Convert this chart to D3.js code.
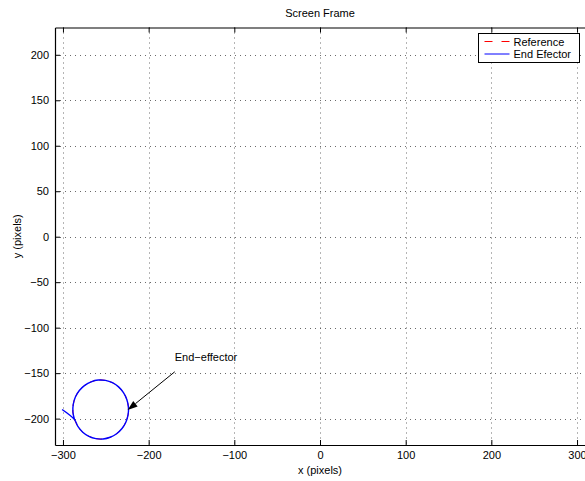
<!DOCTYPE html>
<html>
<head>
<meta charset="utf-8">
<script src="https://cdn.jsdelivr.net/npm/d3@7"></script>
<style>
  body { margin: 0; background: #fff; }
  text { font-family: "Liberation Sans", Arial, sans-serif; fill: #000; }
</style>
</head>
<body>
<script>
// chart values
const xTicks = [-300, -200, -100, 0, 100, 200, 300];
const yTicks = [-200, -150, -100, -50, 0, 50, 100, 150, 200];
const xDomain = [-309.3, 309.3];
const yDomain = [-229, 230];

// end effector path: start point, then round the circle
const effX = [-301.0, -286.5, -282.6, -276.9, -269.7, -261.6, -253.2, -244.9, -237.4, -231.1, -226.5, -224.0,
  -223.6, -225.5, -229.4, -235.1, -242.3, -250.4, -258.8, -267.1, -274.6, -280.9, -285.5, -288.0, -288.4, -286.5];
const effY = [-190.0, -201.1, -208.6, -214.9, -219.5, -222.0, -222.4, -220.5, -216.6, -210.9, -203.7, -195.6,
  -187.2, -178.9, -171.4, -165.1, -160.5, -158.0, -157.6, -159.5, -163.4, -169.1, -176.3, -184.4, -192.8, -201.1];

// reference circle (hidden under the end effector trace)
const refX = effX.slice(1);
const refY = effY.slice(1);

const seriesNames = ['Reference', 'End Efector'];
const seriesColors = ['#ff0000', '#0000ff'];

const annText = 'End\u2212effector';
const annFrom = [-169.5, -148.5];
const annTo = [-224.5, -190.5];

const width = 585, height = 481;
const margin = {left: 55, right: 0, top: 27.5, bottom: 36};

const svg = d3.select('body').append('svg')
  .attr('width', width)
  .attr('height', height);

const x = d3.scaleLinear().domain(xDomain).range([margin.left, width - margin.right]);
const y = d3.scaleLinear().domain(yDomain).range([height - margin.bottom, margin.top]);

const x0 = x.range()[0], x1 = x.range()[1];
const y0 = y.range()[0], y1 = y.range()[1];

// grid
const grid = svg.append('g')
  .attr('stroke', '#444')
  .attr('stroke-width', 0.8)
  .attr('stroke-dasharray', '1,4');
grid.selectAll('.vg').data(xTicks).enter().append('line')
  .attr('x1', d => Math.round(x(d)) + 0.5).attr('x2', d => Math.round(x(d)) + 0.5)
  .attr('y1', y1).attr('y2', y0);
grid.selectAll('.hg').data(yTicks).enter().append('line')
  .attr('y1', d => Math.round(y(d)) + 0.5).attr('y2', d => Math.round(y(d)) + 0.5)
  .attr('x1', x0).attr('x2', x1);

// axes (ticks inward, on all sides)
const tickLen = 5;
svg.append('g')
  .attr('transform', `translate(0, ${y0})`)
  .call(d3.axisBottom(x).tickValues(xTicks).tickSizeInner(-tickLen).tickSizeOuter(0).tickPadding(6)
    .tickFormat(d => d < 0 ? '\u2212' + Math.abs(d) : d))
  .call(g => g.selectAll('text').attr('font-size', 11))
  .call(g => g.select('.domain').attr('stroke-width', 1.2));
svg.append('g')
  .attr('transform', `translate(0, ${y1})`)
  .call(d3.axisTop(x).tickValues(xTicks).tickSizeInner(-tickLen).tickSizeOuter(0).tickFormat(''))
  .call(g => g.select('.domain').attr('stroke-width', 1.2));
svg.append('g')
  .attr('transform', `translate(${x0}, 0)`)
  .call(d3.axisLeft(y).tickValues(yTicks).tickSizeInner(-tickLen).tickSizeOuter(0).tickPadding(6)
    .tickFormat(d => d < 0 ? '\u2212' + Math.abs(d) : d))
  .call(g => g.selectAll('text').attr('font-size', 11))
  .call(g => g.select('.domain').attr('stroke-width', 1.2));
svg.selectAll('.domain, .tick line').attr('stroke', '#000');
svg.selectAll('.tick text').attr('font-family', '"Liberation Sans", Arial, sans-serif');

// traces
const line = (xs, ys) => d3.line()
  .x((d, i) => x(xs[i]))
  .y((d, i) => y(ys[i]))
  .curve(d3.curveCatmullRom.alpha(0.5))(xs);

svg.append('path')
  .attr('d', line(refX, refY))
  .attr('fill', 'none')
  .attr('stroke', seriesColors[0])
  .attr('stroke-width', 1)
  .attr('stroke-dasharray', '6,4');

svg.append('path')
  .attr('d', line(effX, effY))
  .attr('fill', 'none')
  .attr('stroke', seriesColors[1])
  .attr('stroke-width', 1.4);

// annotation arrow
const ax1 = x(annFrom[0]), ay1 = y(annFrom[1]);
const ax2 = x(annTo[0]), ay2 = y(annTo[1]);
const ang = Math.atan2(ay2 - ay1, ax2 - ax1);
const hl = 10, hw = 3.5;
const bx = ax2 - hl * Math.cos(ang), by = ay2 - hl * Math.sin(ang);
svg.append('line')
  .attr('x1', ax1).attr('y1', ay1).attr('x2', bx).attr('y2', by)
  .attr('stroke', '#000').attr('stroke-width', 1);
svg.append('path')
  .attr('d', `M${ax2},${ay2}L${bx - hw * Math.sin(ang)},${by + hw * Math.cos(ang)}L${bx + hw * Math.sin(ang)},${by - hw * Math.cos(ang)}Z`)
  .attr('fill', '#000');
svg.append('text')
  .attr('x', ax1).attr('y', ay1 - 11)
  .attr('font-size', 11)
  .text(annText);

// titles
svg.append('text')
  .attr('x', (x0 + x1) / 2).attr('y', 17)
  .attr('text-anchor', 'middle').attr('font-size', 11)
  .text('Screen Frame');
svg.append('text')
  .attr('x', (x0 + x1) / 2).attr('y', 474)
  .attr('text-anchor', 'middle').attr('font-size', 11)
  .text('x (pixels)');
svg.append('text')
  .attr('transform', `translate(21, ${(y0 + y1) / 2}) rotate(-90)`)
  .attr('text-anchor', 'middle').attr('font-size', 11)
  .text('y (pixels)');

// legend
const lg = svg.append('g').attr('transform', 'translate(478.5, 33.5)');
lg.append('rect')
  .attr('width', 101).attr('height', 29)
  .attr('fill', '#fff').attr('stroke', '#000').attr('stroke-width', 1);
seriesNames.forEach((name, i) => {
  const ly = 8 + i * 12.5;
  lg.append('line')
    .attr('x1', 6).attr('x2', 31).attr('y1', ly).attr('y2', ly)
    .attr('stroke', seriesColors[i]).attr('stroke-width', 1)
    .attr('stroke-dasharray', i === 0 ? '8,9' : null);
  lg.append('text')
    .attr('x', 35).attr('y', ly + 4)
    .attr('font-size', 11)
    .text(name);
});
</script>
</body>
</html>
